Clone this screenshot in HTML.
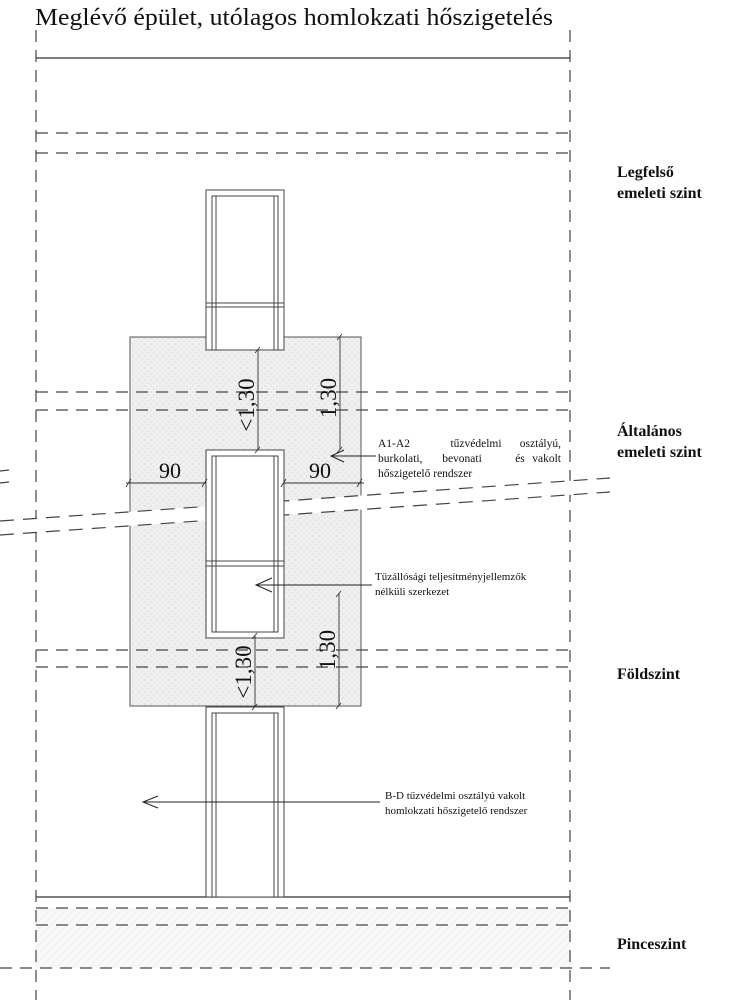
<!DOCTYPE html>
<html><head><meta charset="utf-8"><style>
html,body{margin:0;padding:0;background:#fff}
svg{display:block}
text{font-family:"Liberation Serif",serif;fill:#111}
</style></head><body>
<svg width="732" height="1000" viewBox="0 0 732 1000" xmlns="http://www.w3.org/2000/svg">
<defs>
<pattern id="sp" width="6" height="6" patternUnits="userSpaceOnUse">
<rect width="6" height="6" fill="#efefef"/>
<circle cx="1" cy="2" r="0.5" fill="#bbb"/><circle cx="4" cy="5" r="0.5" fill="#c4c4c4"/>
</pattern>
<pattern id="ht" width="8" height="8" patternUnits="userSpaceOnUse">
<rect width="8" height="8" fill="#f8f8f8"/>
<path d="M0 8L8 0" stroke="#eaeaea" stroke-width="0.6"/>
</pattern>
</defs>
<text x="35" y="25" font-size="24" textLength="518" lengthAdjust="spacingAndGlyphs">Meglévő épület, utólagos homlokzati hőszigetelés</text>

<rect x="130" y="337" width="231" height="369" fill="url(#sp)" stroke="#555" stroke-width="1"/>
<rect x="36" y="908" width="534" height="60" fill="url(#ht)"/>

<g stroke="#444" stroke-width="1.2" fill="none" stroke-dasharray="12,8">
<line x1="36" y1="30" x2="36" y2="1000"/>
<line x1="570" y1="30" x2="570" y2="1000"/>
<line x1="36" y1="133" x2="570" y2="133"/>
<line x1="36" y1="153" x2="570" y2="153"/>
<line x1="36" y1="392" x2="570" y2="392"/>
<line x1="36" y1="410" x2="570" y2="410"/>
<line x1="36" y1="650" x2="570" y2="650"/>
<line x1="36" y1="667" x2="570" y2="667"/>
<line x1="36" y1="908" x2="570" y2="908"/>
<line x1="36" y1="925" x2="570" y2="925"/>
<line x1="0" y1="968" x2="610" y2="968"/>
</g>
<g stroke="#444" stroke-width="1.2">
<line x1="0" y1="471" x2="9" y2="470"/>
<line x1="0" y1="483" x2="9" y2="482"/>
</g>
<line x1="36" y1="58" x2="570" y2="58" stroke="#333" stroke-width="1.2"/>
<line x1="36" y1="897" x2="570" y2="897" stroke="#333" stroke-width="1.2"/>

<polygon points="0,521 610,478 610,492 0,535" fill="#fff"/>
<g stroke="#444" stroke-width="1.2" stroke-dasharray="14,9">
<line x1="0" y1="521" x2="610" y2="478"/>
<line x1="0" y1="535" x2="610" y2="492"/>
</g>

<g stroke="#444" stroke-width="1" fill="#fff">
<rect x="206" y="190" width="78" height="160"/>
<rect x="212" y="196" width="66" height="154" fill="none"/>
<rect x="206" y="450" width="78" height="188"/>
<rect x="212" y="456" width="66" height="176" fill="none"/>
<rect x="206" y="707" width="78" height="190"/>
<rect x="212" y="713" width="66" height="184" fill="none"/>
<line x1="206" y1="303" x2="284" y2="303"/><line x1="206" y1="307" x2="284" y2="307"/>
<line x1="206" y1="561" x2="284" y2="561"/><line x1="206" y1="566" x2="284" y2="566"/>
<line x1="216" y1="196" x2="216" y2="350"/><line x1="274" y1="196" x2="274" y2="350"/>
<line x1="216" y1="456" x2="216" y2="632"/><line x1="274" y1="456" x2="274" y2="632"/>
<line x1="216" y1="713" x2="216" y2="897"/><line x1="274" y1="713" x2="274" y2="897"/>
</g>

<g stroke="#333" stroke-width="0.9">
<line x1="126" y1="483" x2="206" y2="483"/>
<line x1="284" y1="483" x2="364" y2="483"/>
<line x1="258" y1="350" x2="258" y2="450"/>
<line x1="340" y1="337" x2="340" y2="450"/>
<line x1="255" y1="636" x2="255" y2="707"/>
<line x1="339" y1="594" x2="339" y2="706"/>
<path d="M126 487l5-8M202 487l5-8M281 487l5-8M357 487l5-8M255 353l5-6M255 453l5-6M337 340l5-6M337 453l5-6M252 639l5-6M252 710l5-6M336 597l5-6M336 709l5-6"/>
</g>
<text x="170" y="478" font-size="22" text-anchor="middle">90</text>
<text x="320" y="478" font-size="22" text-anchor="middle">90</text>
<text transform="translate(254,405) rotate(-90)" font-size="23" text-anchor="middle">&lt;1,30</text>
<text transform="translate(336,398) rotate(-90)" font-size="23" text-anchor="middle">1,30</text>
<text transform="translate(251,672) rotate(-90)" font-size="23" text-anchor="middle">&lt;1,30</text>
<text transform="translate(335,650) rotate(-90)" font-size="23" text-anchor="middle">1,30</text>

<g stroke="#222" stroke-width="1" fill="none">
<line x1="331" y1="456" x2="376" y2="456"/><path d="M344 450l-13 6 13 6"/>
<line x1="256" y1="585" x2="372" y2="585"/><path d="M272 578l-16 7 16 7"/>
<line x1="143" y1="802" x2="380" y2="802"/><path d="M158 796l-15 6 15 6"/>
</g>
<g font-size="11.5">
<text x="378" y="447">A1-A2</text>
<text x="476" y="447" text-anchor="middle">tűzvédelmi</text>
<text x="561" y="447" text-anchor="end">osztályú,</text>
<text x="378" y="462">burkolati,</text>
<text x="462" y="462" text-anchor="middle">bevonati</text>
<text x="520" y="462" text-anchor="middle">és</text>
<text x="561" y="462" text-anchor="end">vakolt</text>
<text x="378" y="477">hőszigetelő rendszer</text>
<text x="375" y="580" font-size="11">Tűzállósági teljesítményjellemzők</text>
<text x="375" y="595" font-size="11">nélküli szerkezet</text>
<text x="385" y="799" font-size="11">B-D tűzvédelmi osztályú vakolt</text>
<text x="385" y="814" font-size="11">homlokzati hőszigetelő rendszer</text>
</g>
<g font-size="16" font-weight="bold">
<text x="617" y="177">Legfelső</text>
<text x="617" y="198">emeleti szint</text>
<text x="617" y="436">Általános</text>
<text x="617" y="457">emeleti szint</text>
<text x="617" y="679">Földszint</text>
<text x="617" y="949">Pinceszint</text>
</g>
</svg>
</body></html>
